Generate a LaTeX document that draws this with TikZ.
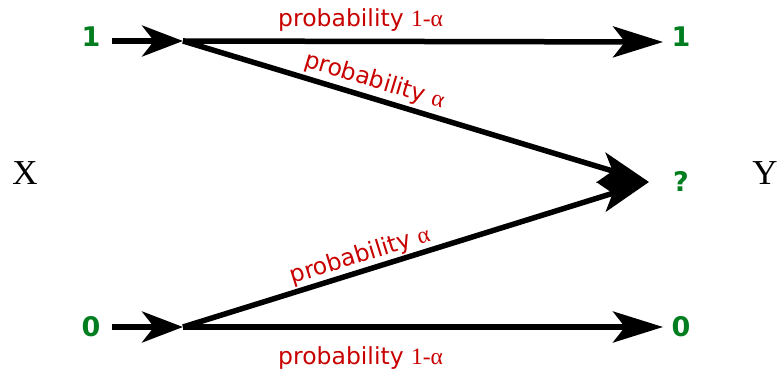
\documentclass[tikz,border=0pt]{standalone}
\usepackage{fontspec}
\newfontfamily\dvsans{DejaVu Sans}
\newfontfamily\tmserif{Liberation Serif}
\usetikzlibrary{arrows.meta}
\definecolor{grn}{RGB}{0,125,30}
\definecolor{rd}{RGB}{200,0,0}
\begin{document}
\begin{tikzpicture}[x=1pt,y=-1pt,
  arr/.style={line width=5.5pt, -{Stealth[length=50pt,width=31pt,inset=12pt]}},
  arrs/.style={line width=5.5pt, -{Stealth[length=41pt,width=31pt,inset=12pt]}},
  sym/.style={text=grn, font=\dvsans\bfseries\fontsize{27}{30}\selectfont, anchor=base, inner sep=0pt},
  var/.style={font=\tmserif\fontsize{35}{40}\selectfont, inner sep=0pt},
  lab/.style={text=rd, font=\dvsans\fontsize{23.5}{26}\selectfont, inner sep=0pt},
  gr/.style={font=\tmserif\fontsize{25}{26}\selectfont}]
\useasboundingbox (0,0) rectangle (778,371);
% labels
\node[var] (X) at (25,173) {X};
\node[var] (Y) at (765,173) {Y};
\node[sym] (in1) at (91,47) {1};
\node[sym] (in0) at (91,336) {0};
\node[sym] (out1) at (681,47) {1};
\node[sym] (outq) at (681,192) {?};
\node[sym] (out0) at (681,336) {0};
% coordinates
\coordinate (s1) at (112,41);
\coordinate (j1) at (183,41);
\coordinate (t1) at (663,42);
\coordinate (s0) at (112,327);
\coordinate (j0) at (183,327);
\coordinate (t0) at (663,327);
\coordinate (q) at (649,182);
% arrows
\draw[arrs] (s1) -- (j1);
\draw[arrs] (s0) -- (j0);
\draw[arr] (j1) -- node[lab, pos=0.37, above=7pt] {probability {\tmserif 1-α}} (t1);
\draw[arr] (j0) -- node[lab, pos=0.37, below=17pt] {probability {\tmserif 1-α}} (t0);
\draw[arr] (j1) -- node[lab, pos=0.40, sloped, above=3pt] {probability {\tmserif α}} (q);
\draw[arr] (j0) -- node[lab, pos=0.39, sloped, above=1pt] {probability {\tmserif α}} (q);
\end{tikzpicture}
\end{document}
